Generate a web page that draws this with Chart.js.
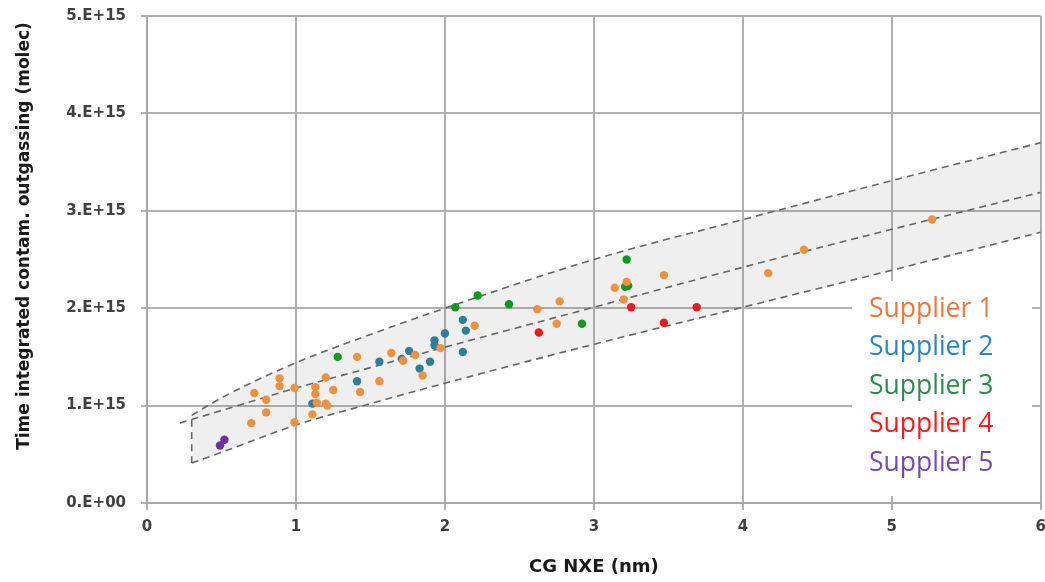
<!DOCTYPE html>
<html>
<head>
<meta charset="utf-8">
<script src="https://cdn.jsdelivr.net/npm/chart.js@4"></script>
<style>
  html, body { margin: 0; padding: 0; background: #fff; }
  #wrap { width: 1045px; height: 582px; }
</style>
</head>
<body>
<div id="wrap"><canvas id="outgasChart" width="1045" height="582"></canvas></div>
<script>
// values in units of 1E15 molecules
const suppliers = ['Supplier 1', 'Supplier 2', 'Supplier 3', 'Supplier 4', 'Supplier 5'];

const supplier1 = [
    [0.70, 0.82], [0.72, 1.13], [0.80, 1.06], [0.80, 0.93], [0.89, 1.28],
    [0.89, 1.20], [0.99, 1.18], [0.99, 0.83], [1.11, 0.91], [1.13, 1.19],
    [1.13, 1.12], [1.14, 1.03], [1.20, 1.29], [1.20, 1.02], [1.21, 1.00],
    [1.25, 1.16], [1.41, 1.50], [1.43, 1.14], [1.56, 1.25], [1.64, 1.54],
    [1.72, 1.46], [1.80, 1.52], [1.85, 1.31], [1.97, 1.59], [2.20, 1.82],
    [2.62, 1.99], [2.75, 1.84], [2.77, 2.07], [3.14, 2.21], [3.22, 2.27],
    [3.20, 2.09], [3.47, 2.34], [4.17, 2.36], [4.41, 2.60], [5.27, 2.91]
];
const supplier2 = [
    [1.11, 1.02], [1.41, 1.25], [1.56, 1.45], [1.71, 1.48], [1.76, 1.56],
    [1.83, 1.38], [1.90, 1.45], [1.93, 1.67], [1.93, 1.62], [2.00, 1.74],
    [2.12, 1.88], [2.14, 1.77], [2.12, 1.55]
];
const supplier3 = [
    [1.28, 1.50], [2.07, 2.01], [2.22, 2.13], [2.43, 2.04], [2.92, 1.84],
    [3.22, 2.50], [3.21, 2.22], [3.23, 2.23]
];
const supplier4 = [[2.63, 1.75], [3.25, 2.01], [3.47, 1.85], [3.69, 2.01]];
const supplier5 = [[0.49, 0.59], [0.52, 0.65]];

// fitted band
const bandX = [0.3, 0.5, 1, 1.5, 2, 3, 4, 5, 6];
const upperY = [0.90, 1.08, 1.44, 1.73, 2.00, 2.50, 2.91, 3.31, 3.70];
const lowerY = [0.41, 0.52, 0.80, 1.02, 1.23, 1.63, 2.01, 2.39, 2.78];
const midX = [0.22, 0.5, 1, 1.5, 2, 3, 4, 5, 6];
const midY = [0.82, 0.95, 1.18, 1.39, 1.60, 2.01, 2.42, 2.81, 3.19];

const yTickLabels = ['0.E+00', '1.E+15', '2.E+15', '3.E+15', '4.E+15', '5.E+15'];
const yTitle = 'Time integrated contam. outgassing (molec)';

const E15 = 1e15;
const pointColors = ['#f0913f', '#2f7f9c', '#0f9a1f', '#f01820', '#7030a0'];
const legendColors = ['#f2773a', '#2a86c0', '#2e8b50', '#ff1a1a', '#7a48b0'];

function toPoints(pairs) {
    return pairs.map(p => ({x: p[0], y: p[1] * E15}));
}
function curve(xs, ys) {
    return xs.map((x, i) => ({x: x, y: ys[i] * E15}));
}

const supplierData = [supplier1, supplier2, supplier3, supplier4, supplier5];
const datasets = supplierData.map((d, i) => ({
    label: suppliers[i],
    data: toPoints(d),
    backgroundColor: pointColors[i],
    borderWidth: 0,
    pointRadius: 4.2,
    pointHoverRadius: 4.2
}));

const dashed = {
    showLine: true,
    pointRadius: 0,
    borderColor: '#666666',
    borderWidth: 1.6,
    borderDash: [7, 5],
    cubicInterpolationMode: 'monotone'
};
datasets.push(Object.assign({label: 'upper', data: curve(bandX, upperY), fill: false}, dashed));
datasets.push(Object.assign({label: 'fit', data: curve(midX, midY), fill: false}, dashed));
datasets.push(Object.assign({label: 'lower', data: curve(bandX, lowerY), fill: 5,
    backgroundColor: 'rgba(120,120,120,0.12)'}, dashed));
datasets.push(Object.assign({label: 'edge', fill: false,
    data: [{x: bandX[0], y: lowerY[0] * E15}, {x: bandX[0], y: upperY[0] * E15}]}, dashed));

// legend drawn inside plot on a white box, y title drawn a bit above centre like the original
const legendBox = {
    id: 'legendBox',
    afterDatasetsDraw(chart) {
        const c = chart.ctx;
        c.save();
        c.fillStyle = '#ffffff';
        c.fillRect(852, 281, 180, 215);
        c.font = '26.5px "Open Sans"';
        c.textBaseline = 'middle';
        suppliers.forEach((s, i) => {
            c.fillStyle = legendColors[i];
            c.fillText(s, 869, 309 + i * 38.5);
        });
        c.restore();

        c.save();
        c.translate(25, 236);
        c.rotate(-Math.PI / 2);
        c.font = 'bold 17px "DejaVu Sans"';
        c.fillStyle = '#1a1a1a';
        c.textAlign = 'center';
        c.textBaseline = 'middle';
        c.fillText(yTitle, 0, 0);
        c.restore();
    }
};

const ctx = document.getElementById('outgasChart').getContext('2d');
const outgasChart = new Chart(ctx, {
    type: 'scatter',
    data: { datasets: datasets },
    plugins: [legendBox],
    options: {
        responsive: false,
        animation: false,
        layout: { padding: { top: 16, right: 4, left: 0, bottom: 0 } },
        plugins: {
            legend: { display: false },
            tooltip: { enabled: false }
        },
        scales: {
            x: {
                min: 0,
                max: 6,
                afterFit(scale) {
                    scale.height = 79;
                    scale.paddingLeft = 0;
                    scale.paddingRight = 0;
                },
                ticks: {
                    stepSize: 1,
                    padding: 8,
                    color: '#404040',
                    font: { family: 'DejaVu Sans', size: 15, weight: 'bold' }
                },
                grid: { color: '#b0b0b0', lineWidth: 2, tickLength: 7 },
                border: { color: '#a8a8a8', width: 2 },
                title: {
                    display: true,
                    text: 'CG NXE (nm)',
                    color: '#1a1a1a',
                    padding: { top: 12 },
                    font: { family: 'DejaVu Sans', size: 18, weight: 'bold' }
                }
            },
            y: {
                min: 0,
                max: 5 * E15,
                afterFit(scale) {
                    scale.width = 147;
                    scale.paddingTop = 0;
                    scale.paddingBottom = 0;
                },
                ticks: {
                    stepSize: E15,
                    padding: 15,
                    color: '#404040',
                    font: { family: 'DejaVu Sans', size: 15, weight: 'bold' },
                    callback: (v, i) => yTickLabels[i]
                },
                grid: { color: '#b0b0b0', lineWidth: 2, tickLength: 6 },
                border: { color: '#a8a8a8', width: 2 }
            }
        }
    }
});
</script>
</body>
</html>
